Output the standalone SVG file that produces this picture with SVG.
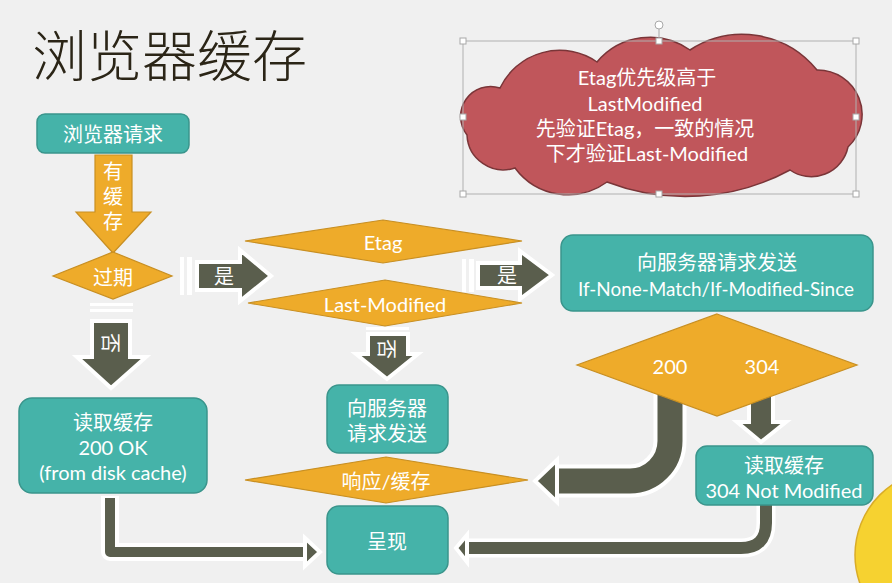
<svg xmlns="http://www.w3.org/2000/svg" width="892" height="583" viewBox="0 0 892 583">
<defs>
<style>
.bg{fill:#f0f0f0}
.box{fill:#45b3a9;stroke:#3a958c;stroke-width:1.5}
.dia{fill:#eeab2a;stroke:#c88f22;stroke-width:1.2}
.dk{fill:#5a5e4d;stroke:#ffffff;stroke-width:4;stroke-linejoin:miter}
.bandw{fill:none;stroke:#ffffff;stroke-linejoin:round}
.band{fill:none;stroke:#5a5e4d;stroke-linejoin:round}
.t{fill:#ffffff;font-family:"Lato","Noto Sans CJK SC",sans-serif;font-size:20px;text-anchor:middle;dominant-baseline:central}
.h{fill:#ffffff;stroke:#a8a8a8;stroke-width:1}
</style>
</defs>
<rect class="bg" x="0" y="0" width="892" height="583"/>
<text x="32" y="76" font-family="'Noto Sans CJK SC',sans-serif" font-size="55" fill="#2b2517" font-weight="300">浏览器缓存</text>

<circle cx="940" cy="555" r="85" fill="#f6d230" stroke="#d9ac28" stroke-width="1.5"/>

<g id="connectors">
  <!-- 有缓存 -->
  <polygon points="95,155 132,155 132,212 151,212 113,253 76,212 95,212" class="dia"/>
  <text class="t" x="113" y="171" font-size="19">有</text>
  <text class="t" x="113" y="196" font-size="19">缓</text>
  <text class="t" x="113" y="221" font-size="19">存</text>
  <!-- 是 1 -->
  <rect x="180" y="257" width="4" height="38" fill="#ffffff"/>
  <rect x="187" y="257" width="5" height="38" fill="#ffffff"/>
  <polygon class="dk" points="197,262 240,262 240,250 271,276 240,301 240,290 197,290"/>
  <text class="t" x="224" y="276">是</text>
  <!-- 是 2 -->
  <rect x="462" y="259" width="4" height="33" fill="#ffffff"/>
  <rect x="469" y="259" width="5" height="33" fill="#ffffff"/>
  <polygon class="dk" points="478,263 520,263 520,251 552,275 520,299 520,288 478,288"/>
  <text class="t" x="507" y="275">是</text>
  <!-- 否 1 -->
  <rect x="90" y="303" width="43" height="3" fill="#ffffff"/>
  <rect x="90" y="309" width="43" height="3" fill="#ffffff"/>
  <polygon class="dk" points="92,321 130,321 130,357 146,357 111,388 77,357 92,357"/>
  <text class="t" x="111" y="343" transform="rotate(90 111 343)">否</text>
  <!-- 否 2 -->
  <rect x="366" y="327" width="43" height="3" fill="#ffffff"/>
  <polygon class="dk" points="368,334 408,334 408,354 418,354 387,379 356,354 368,354"/>
  <text class="t" x="387" y="349" font-size="18" transform="rotate(90 387 349)">否</text>
  <!-- 200 OK -> 呈现 -->
  <path class="bandw" stroke-width="18" d="M110,496 V552 H306"/>
  <path class="band" stroke-width="10" d="M110,498 V552 H308"/>
  <polygon class="dk" points="305,538 320,552 305,566"/>
  <!-- 200 curved -->
  <path class="bandw" stroke-width="33" d="M670,385 V441 A40,40 0 0 1 630,481 H556" stroke-linejoin="miter"/>
  <path class="band" stroke-width="25" d="M670,385 V441 A40,40 0 0 1 630,481 H556"/>
  <polygon class="dk" points="557,460 557,502 535,481"/>
  <!-- 304 down -->
  <polygon class="dk" points="749,390 773,390 773,422 786,422 761,442 737,422 749,422"/>
  <!-- 304 -> 呈现 -->
  <path class="bandw" stroke-width="19" d="M766,503 V523 Q766,548 741,548 H466"/>
  <path class="band" stroke-width="12" d="M766,505 V523 Q766,548 741,548 H468"/>
  <polygon class="dk" points="467,535 467,562 456,548"/>
</g>

<g id="n-request">
  <rect class="box" x="37" y="114" width="152" height="39" rx="8"/>
  <text class="t" x="113" y="134" font-size="21">浏览器请求</text>
</g>
<g id="n-expired">
  <polygon class="dia" points="113,252 172,276 113,299 53,276"/>
  <text class="t" x="113" y="277">过期</text>
</g>
<g id="n-etag">
  <polygon class="dia" points="383,220 522,241 383,263 245,241"/>
  <text class="t" x="383" y="242">Etag</text>
</g>
<g id="n-lastmod">
  <polygon class="dia" points="385,280 522,303 385,326 248,303"/>
  <text class="t" x="385" y="304">Last-Modified</text>
</g>
<g id="n-readcache200">
  <rect class="box" x="19" y="398" width="188" height="95" rx="13"/>
  <text class="t" x="113" y="422">读取缓存</text>
  <text class="t" x="113" y="447">200 OK</text>
  <text class="t" x="113" y="472">(from disk cache)</text>
</g>
<g id="n-send1">
  <rect class="box" x="327" y="385" width="121" height="68" rx="12"/>
  <text class="t" x="387" y="408">向服务器</text>
  <text class="t" x="387" y="433">请求发送</text>
</g>
<g id="n-response">
  <polygon class="dia" points="386,457 528,480 386,503 245,480"/>
  <text class="t" x="386" y="481" font-size="19">响应/缓存</text>
</g>
<g id="n-render">
  <rect class="box" x="327" y="506" width="121" height="68" rx="12"/>
  <text class="t" x="387" y="541">呈现</text>
</g>
<g id="n-send2">
  <rect class="box" x="561" y="235" width="312" height="76" rx="12"/>
  <text class="t" x="717" y="262" font-size="21">向服务器请求发送</text>
  <text class="t" x="716" y="288" font-size="19" textLength="276" lengthAdjust="spacingAndGlyphs">If-None-Match/If-Modified-Since</text>
</g>
<g id="n-status">
  <polygon class="dia" points="717,314 857,365 717,416 577,365"/>
  <text class="t" x="670" y="366">200</text>
  <text class="t" x="762" y="366">304</text>
</g>
<g id="n-readcache304">
  <rect class="box" x="696" y="446" width="177" height="59" rx="11"/>
  <text class="t" x="784" y="465">读取缓存</text>
  <text class="t" x="784" y="490">304 Not Modified</text>
</g>

<g id="n-cloud">
  <path d="M467,135 A30,30 0 0 1 500,88 A66,66 0 0 1 597,62 A69,69 0 0 1 690,50 A96,96 0 0 1 817,70 A44.5,44.5 0 0 1 848,147 A37.5,37.5 0 0 1 790,170 A219,219 0 0 1 607,182 A66,66 0 0 1 515,168 A36.5,36.5 0 0 1 467,135 Z" fill="#c0565b" stroke="#7a3538" stroke-width="1.5"/>
  <text class="t" x="647" y="77">Etag优先级高于</text>
  <text class="t" x="645" y="103">LastModified</text>
  <text class="t" x="645" y="128">先验证Etag，一致的情况</text>
  <text class="t" x="647" y="153">下才验证Last-Modified</text>
  <rect x="463" y="41" width="393" height="153" fill="none" stroke="#b0b0b0" stroke-width="1"/>
  <line x1="659" y1="29" x2="659" y2="41" stroke="#a8a8a8" stroke-width="1"/>
  <circle cx="659" cy="25" r="4" class="h"/>
  <rect class="h" x="460" y="38" width="6" height="6"/>
  <rect class="h" x="656" y="38" width="6" height="6"/>
  <rect class="h" x="853" y="38" width="6" height="6"/>
  <rect class="h" x="460" y="114" width="6" height="6"/>
  <rect class="h" x="853" y="114" width="6" height="6"/>
  <rect class="h" x="460" y="191" width="6" height="6"/>
  <rect class="h" x="656" y="191" width="6" height="6"/>
  <rect class="h" x="853" y="191" width="6" height="6"/>
</g>
</svg>
